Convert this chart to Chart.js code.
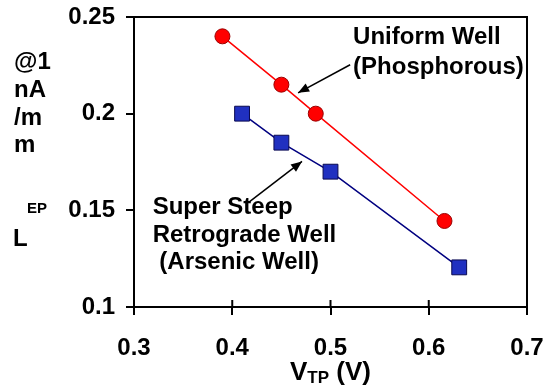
<!DOCTYPE html>
<html><head><meta charset="utf-8">
<script src="https://cdn.jsdelivr.net/npm/chart.js@4"></script>
<style>html,body{margin:0;padding:0;background:#fff}#wrap{width:553px;height:386px}</style>
</head><body><div id="wrap"><canvas id="c" width="553" height="386"></canvas></div>
<script>
const xTicks = [0.3, 0.4, 0.5, 0.6, 0.7];
const yTicks = [0.1, 0.15, 0.2, 0.25];
const uniformX = [0.39, 0.45, 0.485, 0.616];
const uniformY = [0.24, 0.215, 0.2, 0.1445];
const retroX = [0.41, 0.45, 0.50, 0.631];
const retroY = [0.2, 0.185, 0.17, 0.1205];
const yTitleLines = ["@1", "nA", "/m", "m"];
const uniformLabel = ["Uniform Well", "(Phosphorous)"];
const retroLabel = ["Super Steep", "Retrograde Well", " (Arsenic Well)"];

const F = '"Liberation Sans", Arial, sans-serif';
const FS = 24;

const deco = {
  id: 'deco',
  afterDraw(chart) {
    const ctx = chart.ctx, xs = chart.scales.x, ys = chart.scales.y, a = chart.chartArea;
    ctx.save();
    ctx.strokeStyle = '#000'; ctx.lineWidth = 2;
    ctx.strokeRect(a.left, a.top, a.right - a.left, a.bottom - a.top);
    xTicks.forEach(v => {
      const px = xs.getPixelForValue(v);
      ctx.beginPath(); ctx.moveTo(px, a.bottom); ctx.lineTo(px, a.bottom - 7); ctx.stroke();
    });
    function arrow(x1, y1, x2, y2) {
      const p1 = [xs.getPixelForValue(x1), ys.getPixelForValue(y1)];
      const p2 = [xs.getPixelForValue(x2), ys.getPixelForValue(y2)];
      ctx.strokeStyle = '#000'; ctx.fillStyle = '#000'; ctx.lineWidth = 1.5;
      ctx.beginPath(); ctx.moveTo(p1[0], p1[1]); ctx.lineTo(p2[0], p2[1]); ctx.stroke();
      const ang = Math.atan2(p2[1] - p1[1], p2[0] - p1[0]);
      const L = 11, W = 4.5;
      ctx.beginPath();
      ctx.moveTo(p2[0], p2[1]);
      ctx.lineTo(p2[0] - L * Math.cos(ang) + W * Math.sin(ang), p2[1] - L * Math.sin(ang) - W * Math.cos(ang));
      ctx.lineTo(p2[0] - L * Math.cos(ang) - W * Math.sin(ang), p2[1] - L * Math.sin(ang) + W * Math.cos(ang));
      ctx.closePath(); ctx.fill();
    }
    arrow(0.52, 0.2253, 0.467, 0.2108);
    arrow(0.418, 0.1546, 0.471, 0.1753);
    ctx.fillStyle = '#000';
    ctx.font = 'bold ' + FS + 'px ' + F;
    ctx.textAlign = 'left'; ctx.textBaseline = 'middle';
    const ux = xs.getPixelForValue(0.523);
    ctx.fillText(uniformLabel[0], ux, ys.getPixelForValue(0.2397));
    ctx.fillText(uniformLabel[1], ux, ys.getPixelForValue(0.2242));
    const rx = xs.getPixelForValue(0.319);
    ctx.fillText(retroLabel[0], rx, ys.getPixelForValue(0.1515));
    ctx.fillText(retroLabel[1], rx, ys.getPixelForValue(0.137));
    ctx.fillText(retroLabel[2], rx, ys.getPixelForValue(0.123));
    const yt = [62, 90, 118, 145];
    yTitleLines.forEach((t, i) => ctx.fillText(t, 14, yt[i]));
    ctx.font = 'bold 15px ' + F;
    ctx.fillText('EP', 27, 209);
    ctx.font = 'bold ' + FS + 'px ' + F;
    ctx.fillText('L', 13, 239);
    const TF = 26, SF = 17;
    const cx = (a.left + a.right) / 2;
    ctx.font = 'bold ' + TF + 'px ' + F;
    const w1 = ctx.measureText('V').width;
    ctx.font = 'bold ' + SF + 'px ' + F;
    const w2 = ctx.measureText('TP').width;
    ctx.font = 'bold ' + TF + 'px ' + F;
    const w3 = ctx.measureText(' (V)').width;
    let x0 = cx - (w1 + w2 + w3) / 2;
    const by = 373;
    ctx.fillText('V', x0, by);
    ctx.font = 'bold ' + SF + 'px ' + F;
    ctx.fillText('TP', x0 + w1, by + 5);
    ctx.font = 'bold ' + TF + 'px ' + F;
    ctx.fillText(' (V)', x0 + w1 + w2, by);
    ctx.restore();
  }
};

new Chart(document.getElementById('c'), {
  type: 'scatter',
  data: {
    datasets: [
      {
        data: uniformX.map((x, i) => ({x, y: uniformY[i]})),
        showLine: true, borderColor: '#ff0000', borderWidth: 1.5,
        pointStyle: 'circle', pointRadius: 7.5, pointBackgroundColor: '#ff0000',
        pointBorderColor: '#990000', pointBorderWidth: 1
      },
      {
        data: retroX.map((x, i) => ({x, y: retroY[i]})),
        showLine: true, borderColor: '#000080', borderWidth: 1.5,
        pointStyle: 'rect', pointRadius: 10.5, pointBackgroundColor: '#2030c0',
        pointBorderColor: '#0a0a50', pointBorderWidth: 1
      }
    ]
  },
  options: {
    responsive: false, animation: false,
    layout: { padding: { left: 0, right: 26, top: 17, bottom: 0 } },
    plugins: { legend: { display: false }, tooltip: { enabled: false } },
    scales: {
      x: {
        type: 'linear', min: 0.3, max: 0.7,
        afterBuildTicks: s => { s.ticks = xTicks.map(v => ({value: v})); },
        afterFit: s => { s.height = 79; s.paddingLeft = 0; s.paddingRight = 0; },
        grid: { drawOnChartArea: false, tickLength: 8, color: '#000', lineWidth: 2 },
        border: { display: true, color: '#000', width: 2 },
        ticks: { color: '#000', font: { family: F, size: FS, weight: 'bold' }, padding: 19, maxRotation: 0,
          callback: v => String(v) }
      },
      y: {
        type: 'linear', min: 0.1, max: 0.25,
        afterBuildTicks: s => { s.ticks = yTicks.map(v => ({value: v})); },
        afterFit: s => { s.width = 134; s.paddingTop = 0; s.paddingBottom = 0; },
        grid: { drawOnChartArea: false, tickLength: 8, color: '#000', lineWidth: 2 },
        border: { display: true, color: '#000', width: 2 },
        ticks: { color: '#000', font: { family: F, size: FS, weight: 'bold' }, padding: 11,
          callback: v => String(v) }
      }
    }
  },
  plugins: [deco]
});
</script>
</body></html>
